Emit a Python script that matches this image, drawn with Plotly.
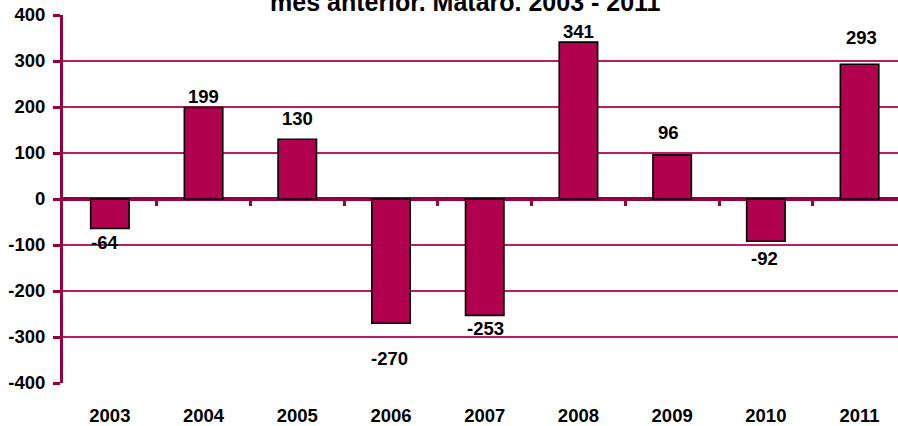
import plotly.graph_objects as go

years = ["2003", "2004", "2005", "2006", "2007", "2008", "2009", "2010", "2011"]
values = [-64, 199, 130, -270, -253, 341, 96, -92, 293]
# pixel offsets of the data labels from the bar ends (style only)
label_yshift = [-14, 11, 21, -35, -13, 11, 22, -17, 27]
label_xshift = [-5, 0, 0, -2, 1, 0, -4, -1, 2]
y_ticks = [-400, -300, -200, -100, 0, 100, 200, 300, 400]
y_ticktext = ["-400", "-300", "-200", "-100", "0", "100", "200", "300", "400"]
title_text = "mes anterior. Mataró. 2003 - 2011"

BAR = "rgb(176,0,78)"
GRID = "rgb(190,26,102)"
DARK = "rgb(150,0,66)"
FONT = "Liberation Sans, Arial, sans-serif"
FS = 18.5

fig = go.Figure()
fig.add_trace(go.Bar(
    x=years, y=values,
    marker=dict(color=BAR, line=dict(color="black", width=1.6)),
    hoverinfo="skip",
))
# helper (empty) trace for the secondary x axis carrying the ticks on the zero line
fig.add_trace(go.Scatter(x=[], y=[], xaxis="x2", yaxis="y", showlegend=False))

annotations = []
for i, (v, dy, dx) in enumerate(zip(values, label_yshift, label_xshift)):
    annotations.append(dict(
        x=i, y=v, xref="x", yref="y", text=str(v), showarrow=False,
        yanchor="middle", xanchor="center", yshift=dy, xshift=dx,
        font=dict(family=FONT, size=FS, color="black", weight="bold"),
    ))
annotations.append(dict(
    x=0.482, y=0.992, xref="paper", yref="paper", text=title_text,
    showarrow=False, xanchor="center", yanchor="bottom",
    font=dict(family=FONT, size=25, color="black", weight="bold"),
))

fig.update_layout(
    width=898, height=426, autosize=False,
    margin=dict(l=63, r=0, t=15, b=43),
    plot_bgcolor="white", paper_bgcolor="white",
    showlegend=False, bargap=0.59,
    annotations=annotations,
    xaxis=dict(
        type="category", range=[-0.5, 8.41], showgrid=False, zeroline=False,
        showline=False, ticks="outside", ticklen=16, tickcolor="rgba(0,0,0,0)",
        tickfont=dict(family=FONT, size=FS, color="black", weight="bold"),
    ),
    xaxis2=dict(
        overlaying="x", anchor="free", position=0.5, side="bottom",
        type="linear", range=[-0.5, 8.41],
        tickvals=[0.5, 1.5, 2.5, 3.5, 4.5, 5.5, 6.5, 7.5],
        ticks="outside", ticklen=6, tickwidth=3, tickcolor=DARK,
        showticklabels=False, showgrid=False, zeroline=False, showline=False,
    ),
    yaxis=dict(
        range=[-400, 400], tickvals=y_ticks, ticktext=y_ticktext, showgrid=True,
        gridcolor=GRID, gridwidth=2,
        zeroline=True, zerolinecolor=DARK, zerolinewidth=4,
        showline=True, linecolor=DARK, linewidth=3,
        ticks="outside", ticklen=7, tickwidth=3, tickcolor=DARK,
        ticklabelstandoff=4,
        tickfont=dict(family=FONT, size=FS, color="black", weight="bold"),
        layer="above traces",
    ),
)

fig.write_html(
    "out.html",
    config={"displayModeBar": False},
    post_script="document.body.style.margin='0';document.body.style.overflow='hidden';",
)
